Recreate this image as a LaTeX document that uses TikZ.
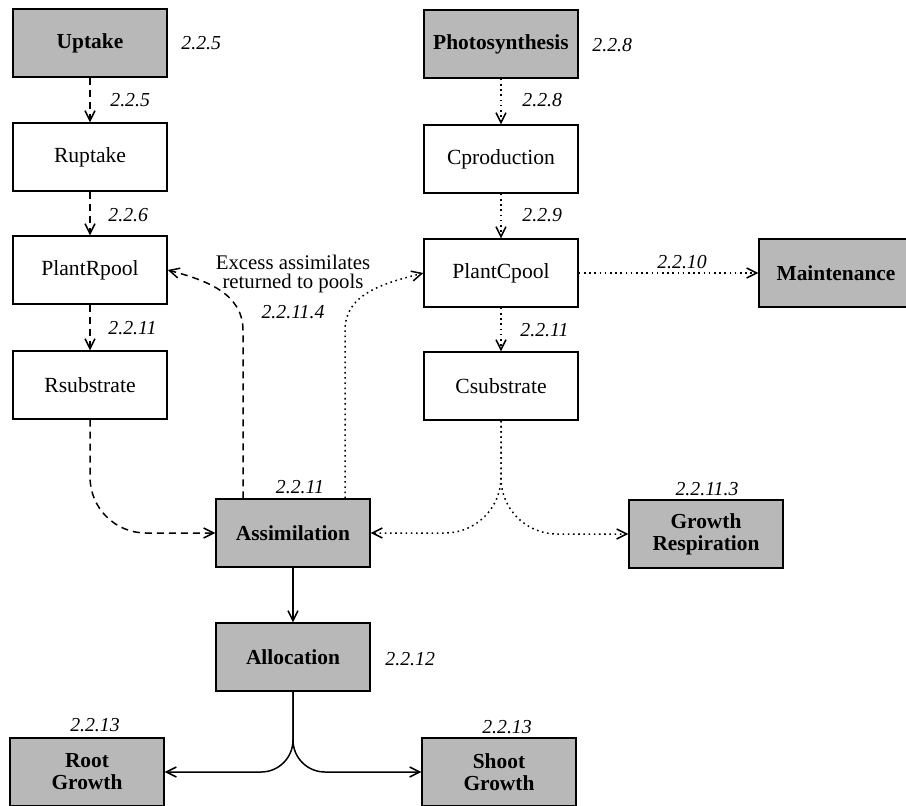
\documentclass[tikz,border=0pt]{standalone}
\usepackage{fontspec}
\setmainfont{Liberation Serif}
\usetikzlibrary{arrows.meta}
\tikzset{
  box/.style={draw,line width=0.7pt,minimum width=77pt,minimum height=34pt,inner sep=2pt,align=center,font=\fontsize{10.8}{11}\selectfont},
  gbox/.style={box,fill=black!28,font=\fontsize{10.7}{11}\selectfont\bfseries},
  sec/.style={font=\fontsize{9.9}{11}\selectfont\itshape,inner sep=1pt},
  tip/.style={-{Straight Barb[length=5pt,width=5pt]}},
  dsh/.style={tip,line width=0.75pt,dash pattern=on 3.5pt off 2.5pt},
  dts/.style={tip,line width=0.75pt,dash pattern=on 0.8pt off 1.8pt},
  sld/.style={tip,line width=0.75pt}
}
\begin{document}
\begin{tikzpicture}[x=0.5pt,y=-0.5pt]
\useasboundingbox (0,0) rectangle (906,805);
\clip (0,0) rectangle (906,805);
\node[gbox] (upt)    at (90,43)   {Uptake};
\node[box]  (rupt)   at (90,157)  {Ruptake};
\node[box]  (prp)    at (90,270)  {PlantRpool};
\node[box]  (rsub)   at (90,385)  {Rsubstrate};
\node[gbox] (phot)   at (501,44)  {Photosynthesis};
\node[box]  (cprod)  at (501,159) {Cproduction};
\node[box]  (pcp)    at (501,273) {PlantCpool};
\node[box]  (csub)   at (501,386) {Csubstrate};
\node[gbox] (maint)  at (836,273) {Maintenance};
\node[gbox] (assim)  at (293,533) {Assimilation};
\node[gbox] (gresp)  at (706,534) {Growth\\Respiration};
\node[gbox] (alloc)  at (293,657) {Allocation};
\node[gbox] (rootg)  at (87,772)  {Root\\Growth};
\node[gbox] (shootg) at (499,772) {Shoot\\Growth};
\node[sec,anchor=west] (lupt)   at (179,43)  {2.2.5};
\node[sec,anchor=west] (lrupt)  at (108,100) {2.2.5};
\node[sec,anchor=west] (lprp)   at (106,215) {2.2.6};
\node[sec,anchor=west] (lrsub)  at (106,328) {2.2.11};
\node[sec,anchor=west] (lphot)  at (590,45)  {2.2.8};
\node[sec,anchor=west] (lcprod) at (520,100) {2.2.8};
\node[sec,anchor=west] (lpcp)   at (520,215) {2.2.9};
\node[sec,anchor=west] (lcsub)  at (518,330) {2.2.11};
\node[sec] (lmaint) at (682,262) {2.2.10};
\node[sec] (lassim) at (300,487) {2.2.11};
\node[sec] (lgresp) at (707,489) {2.2.11.3};
\node[sec,anchor=west] (lalloc) at (383,659) {2.2.12};
\node[sec] (lrootg)  at (95,725)  {2.2.13};
\node[sec] (lshootg) at (507,727) {2.2.13};
\node[align=center,inner sep=1pt,font=\fontsize{10.4}{9.2}\selectfont] (exc) at (293,274) {Excess assimilates\\returned to pools};
\node[sec] (lexc) at (293,312) {2.2.11.4};
\draw[dsh] (upt) -- (rupt);
\draw[dsh] (rupt) -- (prp);
\draw[dsh] (prp) -- (rsub);
\draw[dts] (phot) -- (cprod);
\draw[dts] (cprod) -- (pcp);
\draw[dts] (pcp) -- (csub);
\draw[dts] (pcp) -- (maint);
\draw[dsh,rounded corners=28pt] (rsub.south) |- (assim.west);
\draw[dsh] ([xshift=-25pt]assim.north) -- ++(0,-168) to[out=90,in=-15] (prp.east);
\draw[dts] ([xshift=26pt]assim.north) -- ++(0,-168) to[out=90,in=195] (pcp.west);
\draw[dts,rounded corners=28pt] (csub.south) |- (assim.east);
\draw[dts,rounded corners=28pt] (csub.south) |- (gresp.west);
\draw[sld] (assim) -- (alloc);
\draw[sld,rounded corners=16pt] (alloc.south) |- (rootg.east);
\draw[sld,rounded corners=16pt] (alloc.south) |- (shootg.west);
\end{tikzpicture}
\end{document}
